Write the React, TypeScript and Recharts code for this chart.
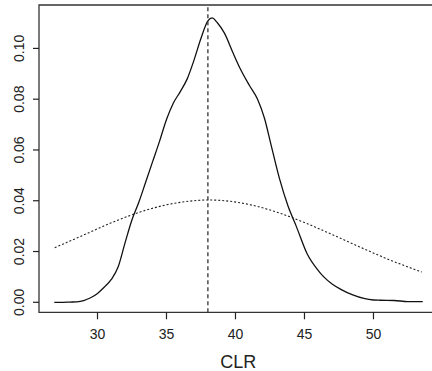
import React from 'react';
import { ComposedChart, Line, XAxis, YAxis, ReferenceLine, ReferenceArea, Label } from 'recharts';

// Kernel density estimate of CLR (solid line)
const densityX = [26.87, 27.5, 28.0, 28.5, 29.0, 29.5, 30.0, 30.5, 31.0, 31.5, 32.0, 32.5, 33.0, 33.5, 34.0, 34.5, 35.0, 35.5, 36.0, 36.5, 37.0, 37.5, 38.0, 38.3, 38.7, 39.2, 39.8, 40.3, 41.0, 41.6, 42.1, 42.6, 43.2, 43.8, 44.4, 45.2, 46.0, 46.4, 47.0, 47.6, 48.5, 49.3, 50.0, 50.5, 51.5, 52.5, 53.57];
const densityY = [0.0000, 0.0000, 0.0001, 0.0002, 0.0007, 0.0018, 0.0035, 0.0060, 0.0090, 0.0140, 0.0235, 0.0325, 0.0395, 0.0475, 0.0555, 0.0635, 0.0720, 0.0785, 0.0830, 0.0880, 0.0955, 0.1040, 0.1108, 0.1120, 0.1100, 0.1060, 0.0985, 0.0925, 0.0855, 0.0800, 0.0725, 0.0615, 0.0485, 0.0380, 0.0300, 0.0190, 0.0125, 0.0100, 0.0072, 0.0052, 0.0029, 0.0015, 0.0009, 0.0008, 0.0007, 0.0003, 0.0003];

// Fitted normal curve (dotted line)
const normalX = [26.9, 29, 31, 33, 35, 37, 38, 39, 41, 43, 45, 47, 49, 51, 53.5];
const normalY = [0.0215, 0.0265, 0.0313, 0.0354, 0.0384, 0.0400, 0.0403, 0.0401, 0.0385, 0.0355, 0.0314, 0.0267, 0.0218, 0.0171, 0.0119];

// Mean marker (dashed vertical line)
const meanCLR = 38.0;

const xTicks = [30, 35, 40, 45, 50];
const yTicks = [0, 0.02, 0.04, 0.06, 0.08, 0.1];
const xDomain: [number, number] = [25.76, 54.64];
const yDomain: [number, number] = [-0.00394, 0.1171];

const densityData = densityX.map((x, i) => ({ x, d: densityY[i] }));
const normalData = normalX.map((x, i) => ({ x, n: normalY[i] }));

const FONT = '"Liberation Sans", Arial, Helvetica, sans-serif';

const YTick = (props: any) => {
  const { y, payload } = props;
  const tx = 24.5;
  return (
    <text
      x={tx}
      y={y}
      transform={`rotate(-90, ${tx}, ${y})`}
      textAnchor="middle"
      fontSize={14}
      fontFamily={FONT}
      fill="#222"
    >
      {Number(payload.value).toFixed(2)}
    </text>
  );
};

export default function App() {
  return (
    <div style={{ position: 'absolute', left: 0, top: 0, width: 432, height: 371, overflow: 'hidden', background: '#fff' }}>
      <ComposedChart
        width={440}
        height={371}
        margin={{ top: 5, right: 2.5, bottom: 0, left: 0 }}
      >
        <XAxis
          type="number"
          dataKey="x"
          domain={xDomain}
          allowDataOverflow
          ticks={xTicks}
          axisLine={false}
          tickLine={{ stroke: '#222', strokeWidth: 1.2 }}
          tickSize={7}
          tickMargin={10}
          height={58.7}
          tick={{ fill: '#222', fontSize: 14, fontFamily: FONT }}
        >
          <Label value="CLR" position="insideBottom" offset={3} fontSize={18} fontFamily={FONT} fill="#222" />
        </XAxis>
        <YAxis
          type="number"
          domain={yDomain}
          allowDataOverflow
          ticks={yTicks}
          axisLine={false}
          tickLine={{ stroke: '#222', strokeWidth: 1.2 }}
          tickSize={6}
          width={39}
          tick={<YTick />}
        />
        <ReferenceArea
          x1={xDomain[0]}
          x2={xDomain[1]}
          y1={yDomain[0]}
          y2={yDomain[1]}
          fill="none"
          fillOpacity={0}
          stroke="#333"
          strokeWidth={1.3}
          ifOverflow="visible"
        />
        <Line
          data={normalData}
          dataKey="n"
          type="monotone"
          stroke="#222"
          strokeWidth={1.1}
          strokeDasharray="2 2"
          dot={false}
          activeDot={false}
          isAnimationActive={false}
        />
        <Line
          data={densityData}
          dataKey="d"
          type="monotone"
          stroke="#111"
          strokeWidth={1.3}
          dot={false}
          activeDot={false}
          isAnimationActive={false}
        />
        <ReferenceLine x={meanCLR} stroke="#333" strokeWidth={1.3} strokeDasharray="4 3" ifOverflow="visible" />
      </ComposedChart>
    </div>
  );
}
